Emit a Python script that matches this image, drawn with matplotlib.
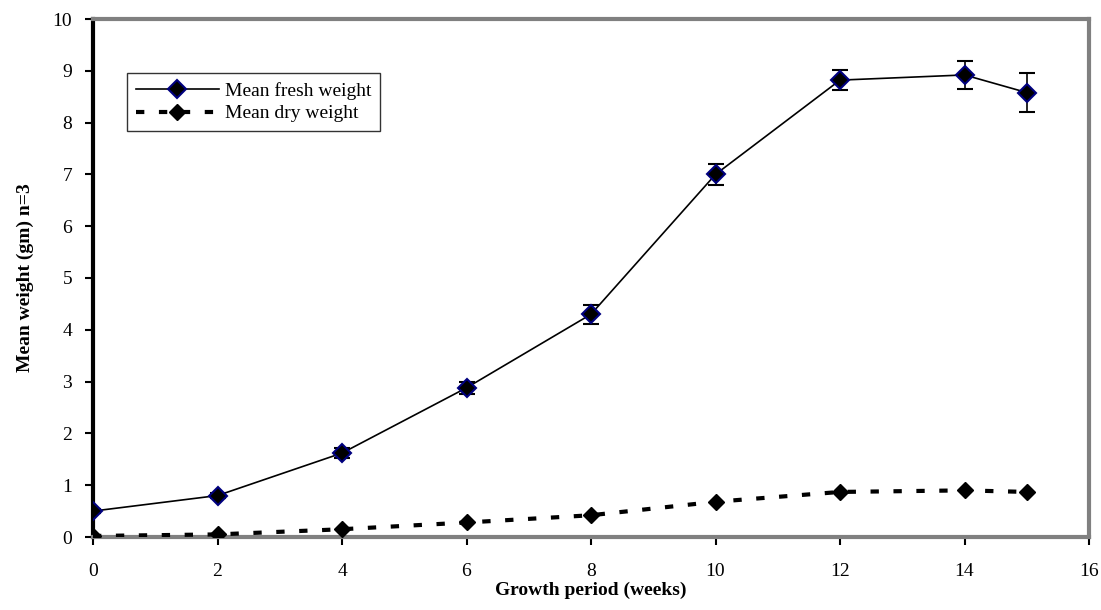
import matplotlib
matplotlib.use("Agg")
import matplotlib.pyplot as plt

weeks = [0, 2, 4, 6, 8, 10, 12, 14, 15]
fresh = [0.50, 0.80, 1.62, 2.88, 4.30, 7.00, 8.82, 8.92, 8.58]
fresh_err = [0.04, 0.05, 0.10, 0.12, 0.18, 0.20, 0.20, 0.27, 0.38]
dry = [0.02, 0.05, 0.15, 0.28, 0.42, 0.68, 0.87, 0.90, 0.87]

plt.rcParams['font.family'] = ['Liberation Serif', 'DejaVu Serif']
fs = 14

fig = plt.figure(figsize=(11.01, 6.10), dpi=100)
ax = fig.add_axes([93 / 1101, 1 - 537 / 610, (1089 - 93) / 1101, (537 - 19) / 610])

eb = ax.errorbar(weeks, fresh, yerr=fresh_err, color='black', lw=1.2,
                 marker='D', markersize=9.5, markerfacecolor='black',
                 markeredgecolor='#00007f', markeredgewidth=1.5,
                 ecolor='black', elinewidth=1.2, capsize=5.5, capthick=1.2,
                 zorder=3)
dry_line, = ax.plot(weeks, dry, color='black', lw=3, linestyle=(0, (2, 3.5)),
                    marker='D', markersize=8, markerfacecolor='black',
                    markeredgecolor='black', zorder=3)

ax.set_xlim(0, 16)
ax.set_ylim(0, 10)
ax.set_xticks(range(0, 17, 2))
ax.set_yticks(range(0, 11))
ax.tick_params(labelsize=fs, width=1.5, color='black')
ax.tick_params(axis='x', direction='out', length=6, pad=13)
ax.tick_params(axis='y', direction='out', length=6, pad=9)

for s in ['top', 'right', 'bottom']:
    ax.spines[s].set_color('#808080')
    ax.spines[s].set_linewidth(3)
ax.spines['left'].set_color('black')
ax.spines['left'].set_linewidth(3)

ax.set_xlabel('Growth period (weeks)', fontsize=fs, fontweight='bold', labelpad=1)
ax.set_ylabel('Mean weight (gm) n=3', fontsize=fs, fontweight='bold', labelpad=13)

leg = ax.legend([eb[0], dry_line], ['Mean fresh weight', 'Mean dry weight'],
                loc='upper left', bbox_to_anchor=(0.034, 0.895), fontsize=fs,
                frameon=True, fancybox=False, edgecolor='black',
                handlelength=4.3, handletextpad=0.3, borderpad=0.45,
                labelspacing=0.25, borderaxespad=0)
leg.get_frame().set_linewidth(1.0)

fig.savefig('out.png', dpi=100)
